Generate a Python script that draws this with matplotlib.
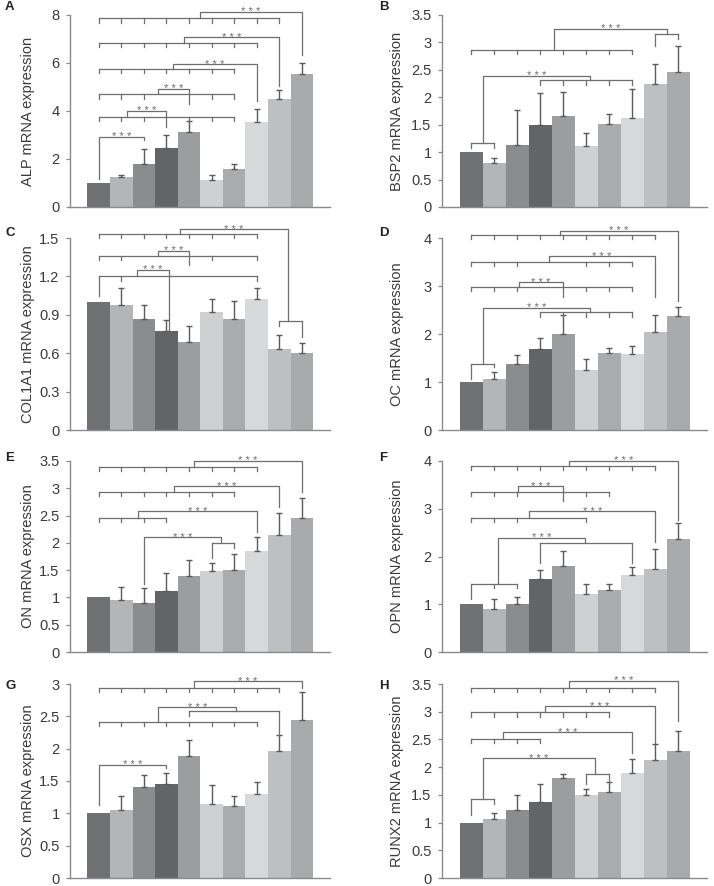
import matplotlib
matplotlib.use("Agg")
import matplotlib.pyplot as plt
import numpy as np

plt.rcParams['font.family'] = ['Liberation Sans', 'DejaVu Sans']

bar_colors = ['#707173', '#b4b5b7', '#8b8c8e', '#636466', '#9c9d9f',
              '#cfd0d1', '#aaabad', '#d7d8d9', '#bebfc0', '#a9aaab']

# ---- data ----
alp_mean = [1.00, 1.25, 1.81, 2.46, 3.12, 1.14, 1.60, 3.55, 4.48, 5.54]
alp_err = [0.00, 0.10, 0.62, 0.56, 0.47, 0.18, 0.21, 0.54, 0.39, 0.48]
bsp2_mean = [1.00, 0.80, 1.13, 1.50, 1.66, 1.12, 1.52, 1.63, 2.25, 2.47]
bsp2_err = [0.00, 0.09, 0.64, 0.58, 0.44, 0.22, 0.18, 0.52, 0.36, 0.47]
col1a1_mean = [1.00, 0.98, 0.87, 0.77, 0.69, 0.92, 0.87, 1.02, 0.63, 0.60]
col1a1_err = [0.00, 0.13, 0.11, 0.09, 0.12, 0.10, 0.14, 0.09, 0.11, 0.08]
oc_mean = [1.00, 1.06, 1.37, 1.68, 2.01, 1.26, 1.61, 1.59, 2.04, 2.38]
oc_err = [0.00, 0.15, 0.20, 0.24, 0.38, 0.22, 0.09, 0.17, 0.35, 0.18]
on_mean = [1.00, 0.96, 0.89, 1.11, 1.40, 1.48, 1.50, 1.85, 2.14, 2.45]
on_err = [0.00, 0.23, 0.28, 0.34, 0.29, 0.16, 0.30, 0.25, 0.40, 0.38]
opn_mean = [1.00, 0.91, 1.01, 1.52, 1.80, 1.21, 1.30, 1.61, 1.73, 2.36]
opn_err = [0.00, 0.21, 0.14, 0.19, 0.31, 0.22, 0.12, 0.17, 0.42, 0.34]
osx_mean = [1.00, 1.05, 1.40, 1.45, 1.89, 1.15, 1.12, 1.30, 1.97, 2.45]
osx_err = [0.00, 0.22, 0.20, 0.17, 0.24, 0.29, 0.15, 0.18, 0.24, 0.43]
runx2_mean = [1.00, 1.06, 1.22, 1.37, 1.80, 1.50, 1.55, 1.89, 2.12, 2.30]
runx2_err = [0.00, 0.12, 0.28, 0.33, 0.08, 0.11, 0.18, 0.26, 0.29, 0.36]

panel_letters = ['A', 'B', 'C', 'D', 'E', 'F', 'G', 'H']
ylabels = ['ALP mRNA expression', 'BSP2 mRNA expression', 'COL1A1 mRNA expression',
           'OC mRNA expression', 'ON mRNA expression', 'OPN mRNA expression',
           'OSX mRNA expression', 'RUNX2 mRNA expression']
means = [alp_mean, bsp2_mean, col1a1_mean, oc_mean, on_mean, opn_mean, osx_mean, runx2_mean]
errs = [alp_err, bsp2_err, col1a1_err, oc_err, on_err, opn_err, osx_err, runx2_err]
ymaxs = [8, 3.5, 1.5, 4, 3.5, 4, 3, 3.5]
ysteps = [2, 0.5, 0.3, 1, 0.5, 1, 0.5, 0.5]
sig_label = '* * *'

# significance annotations: groups (y, legs[(bar, bottom or None)]) and links (x0, y0, ytop, x1, y1)
A_ = lambda bars: [(b, None) for b in bars]
groups = [
    [(3.76, A_([0, 1, 2, 4, 5, 6])), (4.69, A_([0, 1, 2, 5, 6])), (5.75, A_(range(7))),
     (6.85, A_(range(8))), (7.86, A_(range(9)))],
    [(1.17, [(0, 1.08), (1, 1.08)]), (2.31, A_([3, 4, 5, 6, 7])), (2.87, A_(range(8))),
     (3.16, [(8, 2.93), (9, 3.07)])],
    [(1.20, [(0, 1.05), (1, None), (7, None)]), (1.36, A_([0, 1, 5, 7])), (1.53, A_(range(8))),
     (0.855, [(8, 0.81), (9, 0.73)])],
    [(1.38, [(0, 1.07), (1, 1.31)]), (2.45, A_([3, 4, 5, 6, 7])), (2.98, A_([0, 1, 2, 5, 6, 7])),
     (3.50, A_([0, 1, 2, 5, 6, 7])), (4.06, A_(range(9)))],
    [(2.0, [(5, 1.73), (6, 1.91)]), (2.46, A_(range(4))), (2.93, A_(range(7))), (3.39, A_(range(8)))],
    [(1.42, [(0, 1.10), (1, 1.33), (2, 1.33)]), (2.28, [(3, 1.86), (7, 1.86)]),
     (2.81, A_([0, 1, 2, 5])), (3.35, A_([0, 1, 2, 5, 6])), (3.89, A_(range(9)))],
    [(2.41, A_(range(8))), (2.58, [(4, 2.50), (8, 2.20)]), (2.94, A_(range(9)))],
    [(1.43, [(0, 1.14), (1, 1.34)]), (1.88, [(5, 1.70), (6, 1.73)]), (2.51, A_(range(4))),
     (2.99, A_(range(7))), (3.43, A_(range(9)))],
]
links = [
    [(0, 1.18, 2.92, 2, 2.78), (1.25, 3.76, 4.0, 3, 3.34), (2.62, 4.69, 4.93, 4, 4.29),
     (3.3, 5.75, 5.94, 7, 4.41), (3.78, 6.85, 7.07, 8, 5.04), (4.48, 7.86, 8.14, 9, 6.33)],
    [(0.5, 1.17, 2.39, 5.18, 2.31), (3.61, 2.87, 3.25, 8.49, 3.16)],
    [(1.72, 1.20, 1.25, 3.1, 0.78), (2.65, 1.36, 1.40, 4, 1.29), (3.59, 1.53, 1.57, 8.41, 0.855)],
    [(0.5, 1.38, 2.55, 5.18, 2.45), (2.07, 2.98, 3.08, 4, 2.77), (3.38, 3.50, 3.62, 8, 2.77),
     (3.84, 4.06, 4.15, 9, 2.69)],
    [(5.42, 2.0, 2.10, 2, 1.25), (1.75, 2.46, 2.58, 7, 2.20), (3.34, 2.93, 3.04, 8, 2.66),
     (4.24, 3.39, 3.50, 9, 2.93)],
    [(1.18, 1.42, 2.39, 4.96, 2.28), (2.52, 2.81, 2.95, 8, 2.30), (2.04, 3.35, 3.47, 4, 3.16),
     (4.27, 3.89, 4.0, 9, 2.76)],
    [(0, 1.13, 1.75, 3, 1.70), (2.65, 2.41, 2.64, 6.1, 2.58), (4.24, 2.94, 3.04, 9, 2.94)],
    [(0.5, 1.43, 2.16, 5.4, 1.88), (1.4, 2.51, 2.63, 7, 2.25), (3.19, 2.99, 3.10, 8, 2.44),
     (4.27, 3.43, 3.56, 9, 2.83)],
]

W, H = 714, 886
fig = plt.figure(figsize=(W / 100, H / 100), dpi=100)
rows = [(15, 207), (238, 430), (461, 652), (684, 878)]
cols = [(70, 330), (442, 707)]
letter_y = [7, 233, 458, 686]
letter_x = [5, 379]
label_x = [-0.135, -0.143]

line_c = '#6e6e6e'
x = np.arange(10)
for i in range(8):
    r, c = divmod(i, 2)
    top, bot = rows[r]
    l, rr = cols[c]
    ax = fig.add_axes([l / W, 1 - bot / H, (rr - l) / W, (bot - top) / H])
    m = np.array(means[i]); e = np.array(errs[i])
    ax.bar(x, m, width=1.0, color=bar_colors, edgecolor='none', zorder=2)
    mask = e > 0
    ax.errorbar(x[mask], m[mask], yerr=[np.zeros(mask.sum()), e[mask]], fmt='none',
                ecolor='#5a5a5a', elinewidth=1.0, capsize=2.2, capthick=1.0, zorder=3)
    ymax = ymaxs[i]
    ax.set_ylim(0, ymax)
    ax.set_xlim(-1.27, 10.25)
    ticks = np.round(np.arange(0, ymax + 1e-9, ysteps[i]), 2)
    ax.set_yticks(ticks)
    ax.set_yticklabels(['%g' % t for t in ticks])
    ax.set_xticks([])
    for s in ['top', 'right']:
        ax.spines[s].set_visible(False)
    for s in ['left', 'bottom']:
        ax.spines[s].set_color('#8a8a8a')
        ax.spines[s].set_linewidth(1.0)
    ax.tick_params(axis='y', direction='out', length=3, width=0.9, color='#8a8a8a',
                   labelsize=10.5, labelcolor='#3a3a3a', pad=4.5)
    ax.set_ylabel(ylabels[i], fontsize=10.5, color='#3a3a3a')
    ax.yaxis.set_label_coords(label_x[c], 0.5)
    tl = 0.022 * ymax
    for (gy, legs) in groups[i]:
        bs = [b for b, _ in legs]
        ax.plot([min(bs), max(bs)], [gy, gy], color=line_c, lw=0.9, clip_on=False, zorder=4)
        for b, bottom in legs:
            yb = gy - tl if bottom is None else bottom
            ax.plot([b, b], [gy, yb], color=line_c, lw=0.9, clip_on=False, zorder=4)
    for (x0, y0, yt, x1, y1) in links[i]:
        ax.plot([x0, x0, x1, x1], [y0, yt, yt, y1], color=line_c, lw=0.9,
                clip_on=False, zorder=4)
        ax.annotate(sig_label, xy=((x0 + x1) / 2, yt), xytext=(0, -2.5), textcoords='offset points',
                    ha='center', va='baseline', fontsize=8, color='#6a6a6a',
                    annotation_clip=False)
    fig.text(letter_x[c] / W, 1 - letter_y[r] / H, panel_letters[i], fontsize=9.5,
             fontweight='bold', color='#222222', ha='left', va='center')

fig.savefig('out.png', dpi=100)
